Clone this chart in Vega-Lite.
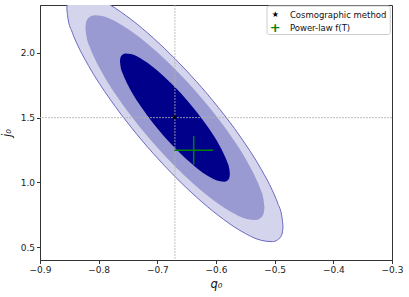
{
  "$schema": "https://vega.github.io/schema/vega-lite/v6.json",
  "width": 352,
  "height": 255,
  "autosize": {"type": "none"},
  "padding": {"left": 40, "top": 5, "right": 17, "bottom": 37},
  "config": {
    "font": "DejaVu Sans",
    "view": {"stroke": "#333333", "strokeWidth": 1},
    "axis": {"grid": false, "labelFlush": false, "domainColor": "#333333", "tickColor": "#333333", "tickSize": 3.5, "labelFontSize": 9, "labelColor": "#222222", "titleFontSize": 11.5, "titleFontWeight": "normal", "titleFontStyle": "italic", "titleColor": "#111111"}
  },
  "layer": [
    {
      "data": {"values": [
        {"q": -0.8543, "lo": 2.3439, "hi": 2.3439}, {"q": -0.8525, "lo": 2.2712, "hi": 2.3997}, {"q": -0.8451, "lo": 2.1595, "hi": 2.4439},
        {"q": -0.8359, "lo": 2.0609, "hi": 2.4581}, {"q": -0.8174, "lo": 1.9018, "hi": 2.4485}, {"q": -0.7806, "lo": 1.6419, "hi": 2.3708},
        {"q": -0.7437, "lo": 1.4201, "hi": 2.2550}, {"q": -0.7069, "lo": 1.2225, "hi": 2.1151}, {"q": -0.67, "lo": 1.0445, "hi": 1.9555},
        {"q": -0.6331, "lo": 0.8849, "hi": 1.7775}, {"q": -0.5963, "lo": 0.7450, "hi": 1.5799}, {"q": -0.5594, "lo": 0.6292, "hi": 1.3581},
        {"q": -0.5226, "lo": 0.5515, "hi": 1.0982}, {"q": -0.5041, "lo": 0.5419, "hi": 0.9391}, {"q": -0.4949, "lo": 0.5561, "hi": 0.8405},
        {"q": -0.4875, "lo": 0.6003, "hi": 0.7288}, {"q": -0.4857, "lo": 0.6561, "hi": 0.6561}
      ]},
      "mark": {"type": "area", "interpolate": "monotone", "fill": "#d4d4ec", "stroke": "#6a6ac2", "strokeWidth": 1, "clip": true},
      "encoding": {
        "x": {"field": "q", "type": "quantitative", "scale": {"domain": [-0.9, -0.3], "nice": false, "zero": false}, "axis": {"values": [-0.9, -0.8, -0.7, -0.6, -0.5, -0.4, -0.3], "format": ".1f", "title": "q₀", "titlePadding": 4}},
        "y": {"field": "lo", "type": "quantitative", "scale": {"domain": [0.4, 2.37], "nice": false, "zero": false}, "axis": {"values": [0.5, 1.0, 1.5, 2.0], "format": ".1f", "title": "j₀", "titlePadding": 8}},
        "y2": {"field": "hi"}
      }
    },
    {
      "data": {"values": [
        {"q": -0.8226, "lo": 2.1961, "hi": 2.1961}, {"q": -0.8211, "lo": 2.1361, "hi": 2.2421}, {"q": -0.8150, "lo": 2.0440, "hi": 2.2786},
        {"q": -0.8073, "lo": 1.9627, "hi": 2.2903}, {"q": -0.7921, "lo": 1.8314, "hi": 2.2823}, {"q": -0.7616, "lo": 1.6171, "hi": 2.2182},
        {"q": -0.7310, "lo": 1.4341, "hi": 2.1228}, {"q": -0.7005, "lo": 1.2711, "hi": 2.0073}, {"q": -0.67, "lo": 1.1243, "hi": 1.8757},
        {"q": -0.6395, "lo": 0.9927, "hi": 1.7289}, {"q": -0.6090, "lo": 0.8772, "hi": 1.5659}, {"q": -0.5784, "lo": 0.7818, "hi": 1.3829},
        {"q": -0.5479, "lo": 0.7177, "hi": 1.1686}, {"q": -0.5327, "lo": 0.7097, "hi": 1.0373}, {"q": -0.5250, "lo": 0.7214, "hi": 0.9560},
        {"q": -0.5189, "lo": 0.7579, "hi": 0.8639}, {"q": -0.5174, "lo": 0.8039, "hi": 0.8039}
      ]},
      "mark": {"type": "area", "interpolate": "monotone", "color": "#9a9ad2", "clip": true},
      "encoding": {
        "x": {"field": "q", "type": "quantitative"},
        "y": {"field": "lo", "type": "quantitative"},
        "y2": {"field": "hi"}
      }
    },
    {
      "data": {"values": [
        {"q": -0.7637, "lo": 1.9365, "hi": 1.9365}, {"q": -0.7628, "lo": 1.8989, "hi": 1.9653}, {"q": -0.7590, "lo": 1.8411, "hi": 1.9882},
        {"q": -0.7543, "lo": 1.7901, "hi": 1.9955}, {"q": -0.7450, "lo": 1.7078, "hi": 1.9905}, {"q": -0.7262, "lo": 1.5734, "hi": 1.9504},
        {"q": -0.7075, "lo": 1.4587, "hi": 1.8905}, {"q": -0.6887, "lo": 1.3565, "hi": 1.8181}, {"q": -0.67, "lo": 1.2644, "hi": 1.7356},
        {"q": -0.6513, "lo": 1.1819, "hi": 1.6435}, {"q": -0.6325, "lo": 1.1095, "hi": 1.5413}, {"q": -0.6138, "lo": 1.0496, "hi": 1.4266},
        {"q": -0.5950, "lo": 1.0095, "hi": 1.2922}, {"q": -0.5857, "lo": 1.0045, "hi": 1.2099}, {"q": -0.5810, "lo": 1.0118, "hi": 1.1589},
        {"q": -0.5772, "lo": 1.0347, "hi": 1.1011}, {"q": -0.5763, "lo": 1.0635, "hi": 1.0635}
      ]},
      "mark": {"type": "area", "interpolate": "monotone", "color": "#00008b", "clip": true},
      "encoding": {
        "x": {"field": "q", "type": "quantitative"},
        "y": {"field": "lo", "type": "quantitative"},
        "y2": {"field": "hi"}
      }
    },
    {
      "data": {"values": [{"q": -0.67}]},
      "mark": {"type": "rule", "color": "#b0b0b0", "strokeWidth": 1, "strokeDash": [2, 1], "opacity": 0.8},
      "encoding": {"x": {"field": "q", "type": "quantitative"}}
    },
    {
      "data": {"values": [{"j": 1.5}]},
      "mark": {"type": "rule", "color": "#b0b0b0", "strokeWidth": 1, "strokeDash": [2, 1], "opacity": 0.8},
      "encoding": {"y": {"field": "j", "type": "quantitative"}}
    },
    {
      "data": {"values": [{"q": -0.638, "qlo": -0.671, "qhi": -0.605, "j": 1.247, "jlo": 1.137, "jhi": 1.357}]},
      "layer": [
        {
          "mark": {"type": "rule", "color": "#008000", "strokeWidth": 1.5},
          "encoding": {"x": {"field": "qlo", "type": "quantitative"}, "x2": {"field": "qhi"}, "y": {"field": "j", "type": "quantitative"}}
        },
        {
          "mark": {"type": "rule", "color": "#008000", "strokeWidth": 1.5},
          "encoding": {"y": {"field": "jlo", "type": "quantitative"}, "y2": {"field": "jhi"}, "x": {"field": "q", "type": "quantitative"}}
        }
      ]
    },
    {
      "data": {"values": [{"q": -0.67, "j": 1.5, "t": "★"}]},
      "mark": {"type": "text", "color": "black", "fontSize": 8, "align": "center", "baseline": "middle"},
      "encoding": {"x": {"field": "q", "type": "quantitative"}, "y": {"field": "j", "type": "quantitative"}, "text": {"field": "t"}}
    },
    {
      "data": {"values": [{"x1": -0.513, "x2": -0.303, "y1": 2.142, "y2": 2.362}]},
      "mark": {"type": "rect", "fill": "white", "stroke": "#cccccc", "strokeWidth": 1, "cornerRadius": 2},
      "encoding": {"x": {"field": "x1", "type": "quantitative"}, "x2": {"field": "x2"}, "y": {"field": "y1", "type": "quantitative"}, "y2": {"field": "y2"}}
    },
    {
      "data": {"values": [{"q": -0.499, "j": 2.296, "t": "★"}]},
      "mark": {"type": "text", "color": "black", "fontSize": 8, "align": "center", "baseline": "middle"},
      "encoding": {"x": {"field": "q", "type": "quantitative"}, "y": {"field": "j", "type": "quantitative"}, "text": {"field": "t"}}
    },
    {
      "data": {"values": [{"q": -0.499, "j": 2.195, "t": "+"}]},
      "mark": {"type": "text", "color": "#008000", "fontSize": 13, "fontWeight": "bold", "align": "center", "baseline": "middle", "dy": 0.5},
      "encoding": {"x": {"field": "q", "type": "quantitative"}, "y": {"field": "j", "type": "quantitative"}, "text": {"field": "t"}}
    },
    {
      "data": {"values": [
        {"q": -0.474, "j": 2.296, "t": "Cosmographic method"},
        {"q": -0.474, "j": 2.195, "t": "Power-law f(T)"}
      ]},
      "mark": {"type": "text", "color": "#111111", "fontSize": 8.5, "align": "left", "baseline": "middle"},
      "encoding": {"x": {"field": "q", "type": "quantitative"}, "y": {"field": "j", "type": "quantitative"}, "text": {"field": "t"}}
    }
  ]
}
